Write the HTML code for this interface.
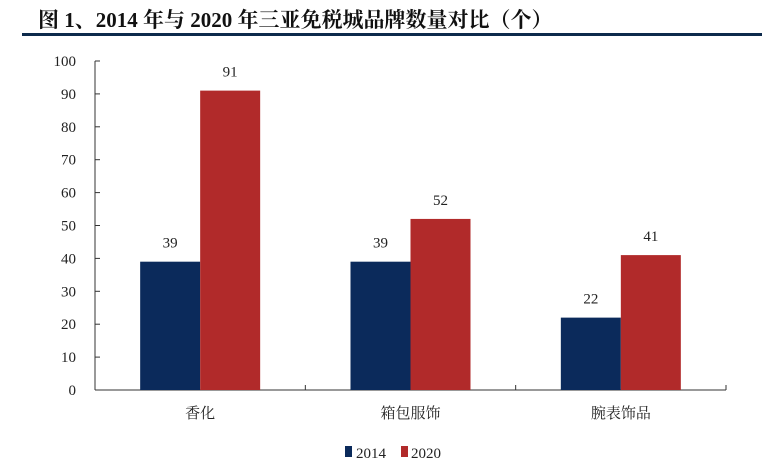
<!DOCTYPE html>
<html><head><meta charset="utf-8"><style>
body{margin:0;background:#fff;width:781px;height:468px;overflow:hidden}
svg text{font-family:"Liberation Serif","Noto Serif CJK SC",serif}
</style></head><body>
<svg width="781" height="468">
<text x="38" y="27" font-size="21" font-weight="bold" fill="#111">图 1、2014 年与 2020 年三亚免税城品牌数量对比（个）</text>
<rect x="22" y="33" width="740" height="3" fill="#0d2a4c"/>
<g id="plot"></g>
<g>
<rect x="345" y="446" width="7" height="11" fill="#0b2a5b"/>
<text x="356" y="458" font-size="15" fill="#222">2014</text>
<rect x="401" y="446" width="7" height="11" fill="#b12a2a"/>
<text x="411" y="458" font-size="15" fill="#222">2020</text>
</g>
</svg>
<script>
const categories=["香化","箱包服饰","腕表饰品"];
const series2014=[39,39,22];
const series2020=[91,52,41];
const yTicks=[0,10,20,30,40,50,60,70,80,90,100];
const NS="http://www.w3.org/2000/svg";
const g=document.getElementById('plot');
const x0=95,x1=726,y0=390,yTop=61,yMax=100;
const y=v=>y0-(y0-yTop)*v/yMax;
const band=(x1-x0)/categories.length;
function mk(t,a,txt){const e=document.createElementNS(NS,t);for(const k in a)e.setAttribute(k,a[k]);if(txt!=null)e.textContent=txt;g.appendChild(e);return e;}
const ya=mk('line',{x1:x0,x2:x0,y1:yTop,y2:y0,stroke:'#333','stroke-width':1});


yTicks.forEach(v=>{
 const t=mk('line',{x1:x0,x2:x0+5,y1:y(v),y2:y(v),stroke:'#333'});
 
 
 const l=mk('text',{x:x0-19,y:y(v)+5,'font-size':15,'text-anchor':'end',fill:'#222'},v);
 
 
});
const xa=mk('line',{x1:x0,x2:x1,y1:y0,y2:y0,stroke:'#333'});


for(let i=0;i<=categories.length;i++){
 const t=mk('line',{x1:x0+band*i,x2:x0+band*i,y1:y0,y2:y0-5,stroke:'#333'});
 
 
}
const bw=60;
categories.forEach((c,i)=>{
 const cx=x0+band*(i+0.5);
 [[series2014,'#0b2a5b','bar-2014'],[series2020,'#b12a2a','bar-2020']].forEach(([s,col,nm],j)=>{
  const bx=j===0?cx-bw:cx;
  const r=mk('rect',{x:bx,y:y(s[i]),width:bw,height:y0-y(s[i]),fill:col});
  
  
  const l=mk('text',{x:bx+bw/2,y:y(s[i])-14,'font-size':15,'text-anchor':'middle',fill:'#222'},s[i]);
  
  
 });
 const cl=mk('text',{x:cx,y:418,'font-size':15,'text-anchor':'middle',fill:'#222'},c);
 
 
});
</script>
</body></html>
